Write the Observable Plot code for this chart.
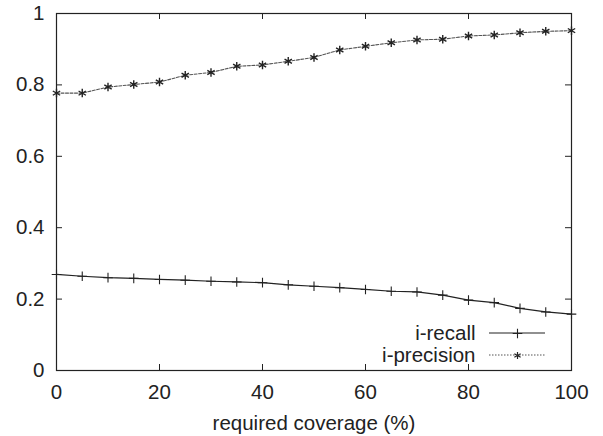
<!DOCTYPE html>
<html>
<head>
<meta charset="utf-8">
<script src="https://cdn.jsdelivr.net/npm/d3@7"></script>
<script src="https://cdn.jsdelivr.net/npm/@observablehq/plot@0.6"></script>
<style>
  html, body { margin: 0; padding: 0; background: #fff; }
  #chart svg { display: block; font-family: "Liberation Sans", Arial, sans-serif; }
</style>
</head>
<body>
<div id="chart"></div>
<script>
const coverage = [0, 5, 10, 15, 20, 25, 30, 35, 40, 45, 50, 55, 60, 65, 70, 75, 80, 85, 90, 95, 100];
const recall = [0.269, 0.264, 0.260, 0.258, 0.255, 0.253, 0.250, 0.248, 0.246, 0.240, 0.236, 0.232, 0.227, 0.222, 0.220, 0.211, 0.197, 0.190, 0.174, 0.164, 0.158];
const precision = [0.777, 0.777, 0.794, 0.801, 0.808, 0.827, 0.835, 0.852, 0.856, 0.866, 0.877, 0.898, 0.908, 0.918, 0.926, 0.928, 0.937, 0.940, 0.946, 0.950, 0.952];
const xTicks = [0, 20, 40, 60, 80, 100];
const yTicks = [0, 0.2, 0.4, 0.6, 0.8, 1];
const seriesNames = ["i-recall", "i-precision"];
const xLabel = "required coverage (%)";

const W = 603, H = 436;
const mL = 56, mR = 32, mT = 13, mB = 66;
const pw = W - mL - mR, ph = H - mT - mB;
const tick = 6;
const fs = 20.5;

const recallData = coverage.map((x, i) => ({x, y: recall[i]}));
const precisionData = coverage.map((x, i) => ({x, y: precision[i]}));

const chart = Plot.plot({
  width: W, height: H,
  marginLeft: mL, marginRight: mR, marginTop: mT, marginBottom: mB,
  style: {fontFamily: '"Liberation Sans", Arial, sans-serif', fontSize: fs + "px", color: "#222", background: "#fff"},
  x: {domain: [0, 100], ticks: xTicks},
  y: {domain: [0, 1], ticks: yTicks},
  marks: [
    Plot.axisX(xTicks, {tickSize: 0, tickPadding: 14, label: null, fontSize: fs, fill: "#222"}),
    Plot.axisY(yTicks, {tickSize: 0, tickPadding: 12, label: null, fontSize: fs, fill: "#222", tickFormat: d => String(d)}),
    // inward ticks on all four sides
    Plot.tickX(xTicks, {x: d => d, insetTop: ph - tick, stroke: "#222"}),
    Plot.tickX(xTicks, {x: d => d, insetBottom: ph - tick, stroke: "#222"}),
    Plot.tickY(yTicks, {y: d => d, insetRight: pw - tick, stroke: "#222"}),
    Plot.tickY(yTicks, {y: d => d, insetLeft: pw - tick, stroke: "#222"}),
    Plot.frame({stroke: "#222", strokeWidth: 1.2}),
    // precision
    Plot.line(precisionData, {x: "x", y: "y", stroke: "#555", strokeWidth: 1.1, strokeDasharray: "3,1.5"}),
    Plot.dot(precisionData, {x: "x", y: "y", symbol: "asterisk", r: 4, stroke: "#222", strokeWidth: 1.4}),
    // recall
    Plot.line(recallData, {x: "x", y: "y", stroke: "#222", strokeWidth: 1.2}),
    Plot.dot(recallData, {x: "x", y: "y", symbol: "plus", r: 3.2, stroke: "#222", strokeWidth: 1.1}),
    // axis label
    Plot.text([xLabel], {text: d => d, frameAnchor: "bottom", dy: 59, lineAnchor: "bottom", fontSize: fs, fill: "#222"}),
    // legend text
    Plot.text([seriesNames[0]], {text: d => d, frameAnchor: "bottom-right", textAnchor: "end", lineAnchor: "middle", dx: -96, dy: -37, fontSize: fs, fill: "#222"}),
    Plot.text([seriesNames[1]], {text: d => d, frameAnchor: "bottom-right", textAnchor: "end", lineAnchor: "middle", dx: -96, dy: -15, fontSize: fs, fill: "#222"}),
    // legend markers
    Plot.dot([0], {frameAnchor: "bottom-right", dx: -54, dy: -37, symbol: "plus", r: 3.2, stroke: "#222", strokeWidth: 1.1}),
    Plot.dot([0], {frameAnchor: "bottom-right", dx: -54, dy: -15, symbol: "asterisk", r: 3.4, stroke: "#222", strokeWidth: 1.2})
  ]
});

// legend line samples
const svg = d3.select(chart);
const legX1 = W - mR - 82, legX2 = W - mR - 26;
svg.append("line")
  .attr("x1", legX1).attr("x2", legX2)
  .attr("y1", H - mB - 37).attr("y2", H - mB - 37)
  .attr("stroke", "#222").attr("stroke-width", 1.2);
svg.append("line")
  .attr("x1", legX1).attr("x2", legX2)
  .attr("y1", H - mB - 15).attr("y2", H - mB - 15)
  .attr("stroke", "#555").attr("stroke-width", 1.1).attr("stroke-dasharray", "1.5,1.5");

document.getElementById("chart").appendChild(chart);
</script>
</body>
</html>
